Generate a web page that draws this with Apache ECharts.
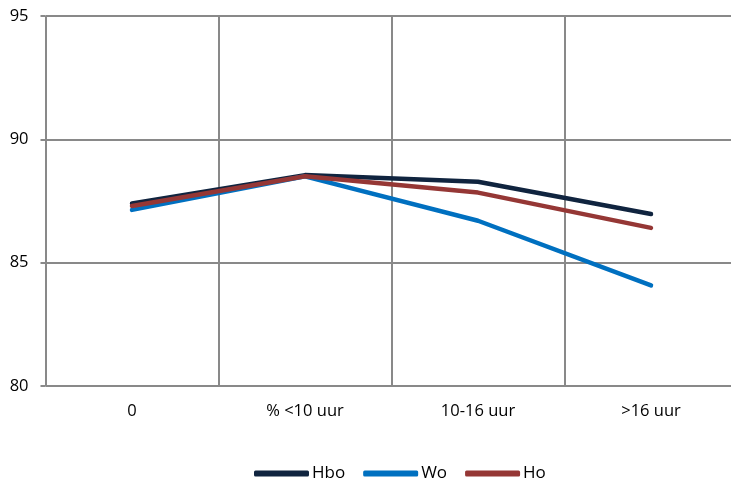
<!DOCTYPE html>
<html><head><meta charset="utf-8">
<script src="https://cdn.jsdelivr.net/npm/echarts@6/dist/echarts.min.js"></script>
<style>html,body{margin:0;padding:0;background:#fff}#c{width:731px;height:483px}</style>
</head><body><div id="c"></div>
<script>
const categories = ['0', '% <10 uur', '10-16 uur', '>16 uur'];
const hbo = [87.4, 88.55, 88.28, 86.97];
const wo = [87.14, 88.5, 86.7, 84.08];
const ho = [87.3, 88.5, 87.84, 86.41];
const yTicks = [80, 85, 90, 95];

const font = '"Open Sans", "Noto Sans", sans-serif';
const chart = echarts.init(document.getElementById('c'));
chart.setOption({
  animation: false,
  grid: { left: 45.5, width: 692, top: 16, height: 370, containLabel: false, outerBoundsMode: 'none' },
  legend: {
    top: 460, left: 249,
    icon: 'roundRect', itemWidth: 55, itemHeight: 6, itemGap: 18,
    textStyle: { fontFamily: font, fontSize: 17, color: '#000', padding: [0, 0, 0, -2] },
    data: ['Hbo', 'Wo', 'Ho']
  },
  xAxis: {
    type: 'category', data: categories, boundaryGap: true,
    axisLine: { show: false }, axisTick: { show: false },
    splitLine: { show: true, lineStyle: { color: '#898989', width: 2 } },
    axisLabel: { fontFamily: font, fontSize: 16.5, color: '#000', margin: 17 }
  },
  yAxis: {
    type: 'value', min: yTicks[0], max: yTicks[yTicks.length - 1], interval: 5,
    axisLine: { show: false },
    axisTick: { show: true, length: 5, lineStyle: { color: '#898989', width: 2 } },
    splitLine: { show: true, lineStyle: { color: '#898989', width: 2 } },
    axisLabel: { fontFamily: font, fontSize: 16.5, color: '#000', margin: 17 }
  },
  series: [
    { name: 'Hbo', type: 'line', data: hbo, symbol: 'none', z: 3,
      lineStyle: { color: '#10243f', width: 4.5, cap: 'round', join: 'round' }, itemStyle: { color: '#10243f' } },
    { name: 'Wo', type: 'line', data: wo, symbol: 'none', z: 4,
      lineStyle: { color: '#0070c0', width: 4.5, cap: 'round', join: 'round' }, itemStyle: { color: '#0070c0' } },
    { name: 'Ho', type: 'line', data: ho, symbol: 'none', z: 5,
      lineStyle: { color: '#953735', width: 4.5, cap: 'round', join: 'round' }, itemStyle: { color: '#953735' } }
  ]
});
</script></body></html>
